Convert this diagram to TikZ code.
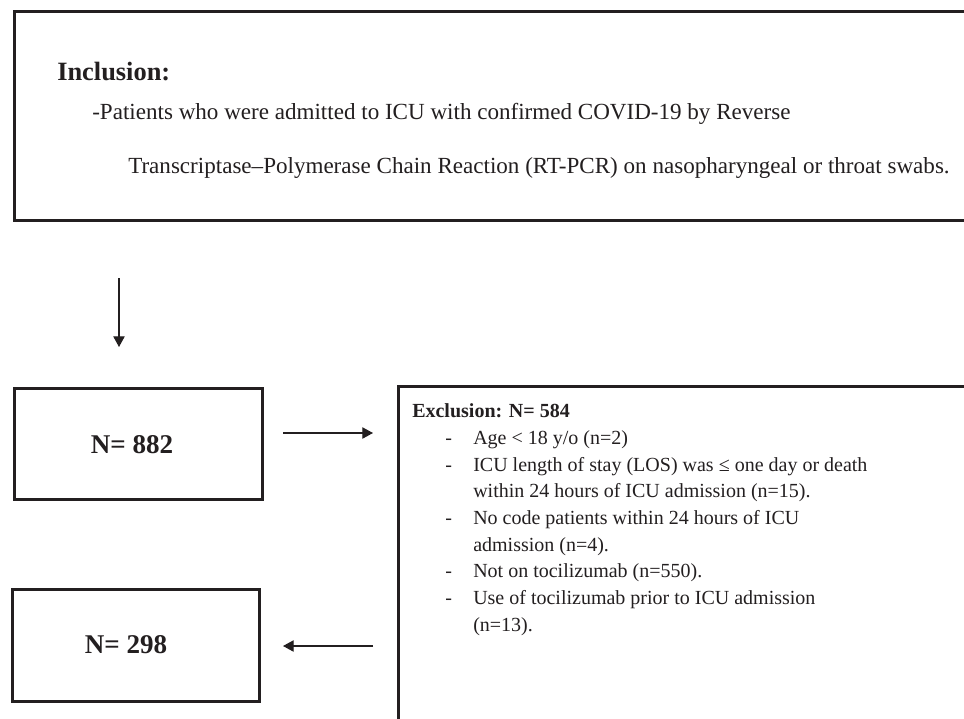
\documentclass[tikz,border=0pt]{standalone}
\usepackage{fontspec}
\setmainfont{Liberation Serif}
\usetikzlibrary{arrows.meta}
\definecolor{ink}{HTML}{231F20}
\begin{document}
\begin{tikzpicture}[x=0.75pt,y=-0.75pt,
  box/.style={draw=ink, line width=2.3pt, inner sep=0pt, anchor=north west},
  conn/.style={draw=ink, line width=0.9pt, -{Triangle[length=8pt,width=8.5pt]}},
  txt/.style={inner sep=0pt, anchor=base west, text=ink}]
\useasboundingbox (0,0) rectangle (964,718);
\clip (0,0) rectangle (964,718);
\fill[white] (0,0) rectangle (964,718);

% boxes
\node[box, minimum width=732.75pt, minimum height=156.75pt] (incl) at (13,10) {};
\node[box, minimum width=186pt, minimum height=83.25pt] (b882) at (13,387) {};
\node[box, minimum width=185.25pt, minimum height=84pt] (b298) at (11,588) {};
\node[box, minimum width=460pt, minimum height=300pt] (excl) at (397,385) {};

% inclusion text
\node[txt, font=\fontsize{19.8pt}{23pt}\selectfont\bfseries] (inct) at (57,80) {Inclusion:};
\node[txt, font=\fontsize{17.3pt}{21pt}\selectfont] (incl1) at (92,119) {-Patients who were admitted to ICU with confirmed COVID-19 by Reverse};
\node[txt, font=\fontsize{17.3pt}{21pt}\selectfont] (incl2) at (128,173) {Transcriptase–Polymerase Chain Reaction (RT-PCR) on nasopharyngeal or throat swabs.};

% counts
\node[txt, anchor=base, font=\fontsize{20.3pt}{24pt}\selectfont\bfseries] (n882) at (132,453) {N= 882};
\node[txt, anchor=base, font=\fontsize{20.3pt}{24pt}\selectfont\bfseries] (n298) at (126,653) {N= 298};

% exclusion text
\node[txt, font=\fontsize{15pt}{20pt}\selectfont\bfseries] (exct) at (412,417) {Exclusion: N= 584};
\node[txt, anchor=north west, font=\fontsize{15pt}{20pt}\selectfont] (exl) at (445,425.5)
{\begin{tabular}{@{}p{21pt}@{}l@{}}
- & Age < 18 y/o (n=2)\\
- & ICU length of stay (LOS) was ≤ one day or death\\
  & within 24 hours of ICU admission (n=15).\\
- & No code patients within 24 hours of ICU\\
  & admission (n=4).\\
- & Not on tocilizumab (n=550).\\
- & Use of tocilizumab prior to ICU admission\\
  & (n=13).
\end{tabular}};

% connectors
\coordinate (d1) at (119,278);
\coordinate (d2) at (119,347);
\coordinate (r1) at (283,433);
\coordinate (r2) at (373,433);
\coordinate (l1) at (373,646);
\coordinate (l2) at (283,646);
\draw[conn] (d1) -- (d2);
\draw[conn] (r1) -- (r2);
\draw[conn] (l1) -- (l2);
\end{tikzpicture}
\end{document}
